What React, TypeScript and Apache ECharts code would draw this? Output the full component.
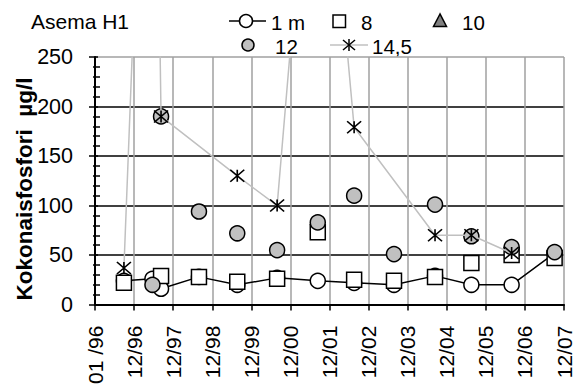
import React, { useEffect, useRef } from "react";
import * as echarts from "echarts";

const tickLabels = ["01 /96", "12/96", "12/97", "12/98", "12/99", "12/00", "12/01", "12/02", "12/03", "12/04", "12/05", "12/06", "12/07"];
// sample dates, in years after 01/96 (the axis unit)
const dates = [0.74, 1.47, 1.69, 2.66, 3.64, 4.66, 5.7, 6.63, 7.65, 8.7, 9.63, 10.66, 11.76];
const depth1 = [24, 26, 16, 28, 20, 27, 24, 22, 20, 29, 20, 20, 52];
const depth8 = [22, null, 29, 28, 23, 26, 73, 25, 24, 28, 42, 50, 47];
const depth10: (number | null)[] = [null, null, null, null, null, null, null, null, null, null, null, null, null];
const depth12 = [null, 20, 190, 94, 72, 55, 83, 110, 51, 101, 69, 58, 53];
const depth145 = [37, 780, 190, null, 130, 100, 586, 179, null, 70, 70, 52, null];

const FONT = "'Liberation Sans', Arial, sans-serif";
const STAR = "path://M0,0L14,12M14,0L0,12M7,0L7,12";

function pairs(vals: (number | null)[]) {
  const out: number[][] = [];
  vals.forEach((v, i) => {
    if (v !== null && v !== undefined) out.push([dates[i], v]);
  });
  return out;
}

export default function App() {
  const ref = useRef<HTMLDivElement>(null);
  useEffect(() => {
    if (!ref.current) return;
    const chart = echarts.init(ref.current, undefined, { renderer: "svg" });
    const grey = "#c0c0c0";
    const r1 = 21;
    const r2 = 45;
    chart.setOption({
      animation: false,
      backgroundColor: "#fff",
      textStyle: { fontFamily: FONT },
      grid: { left: 95, right: 15, top: 57, bottom: 77, containLabel: false },
      xAxis: {
        type: "value",
        min: 0,
        max: 12,
        interval: 1,
        axisLine: { show: true, lineStyle: { color: "#000", width: 2 } },
        axisTick: { show: true, length: 6, lineStyle: { color: "#000", width: 1.5 } },
        splitLine: { show: true, lineStyle: { color: "#a0a0a0", width: 1.5 } },
        axisLabel: {
          rotate: 90,
          margin: 21,
          fontSize: 21,
          color: "#000",
          fontFamily: FONT,
          formatter: (v: number) => tickLabels[Math.round(v)] ?? "",
        },
      },
      yAxis: [
        {
          type: "value",
          min: 0,
          max: 250,
          interval: 50,
          axisLine: { show: true, lineStyle: { color: "#000", width: 2 } },
          axisTick: { show: true, length: 6, lineStyle: { color: "#000", width: 1.5 } },
          minorTick: { show: true, splitNumber: 5, length: 2, lineStyle: { color: "#000", width: 1.5 } },
          splitLine: {
            show: true,
            lineStyle: { color: ["#000", "#000", "#000", "#000", "#000", "#a0a0a0"], width: 1.5 },
          },
          axisLabel: { fontSize: 21.5, color: "#000", margin: 22, fontFamily: FONT },
        },
        {
          type: "value",
          min: 0,
          max: 250,
          interval: 50,
          position: "left",
          axisLine: { show: false },
          axisLabel: { show: false },
          splitLine: { show: false },
          axisTick: { show: true, inside: true, length: 3, lineStyle: { color: "#000", width: 1.5 } },
          minorTick: { show: true, splitNumber: 5, length: 5, lineStyle: { color: "#000", width: 1.5 } },
        },
      ],
      series: [
        {
          name: "1 m",
          type: "line",
          data: pairs(depth1),
          symbol: "circle",
          symbolSize: 15,
          itemStyle: { color: "#fff", borderColor: "#000", borderWidth: 1.5 },
          lineStyle: { color: "#000", width: 1.5 },
          z: 2,
        },
        {
          name: "8",
          type: "scatter",
          data: pairs(depth8),
          symbol: "rect",
          symbolSize: 15,
          itemStyle: { color: "#fff", borderColor: "#000", borderWidth: 1.5, opacity: 1 },
          z: 3,
        },
        {
          name: "10",
          type: "scatter",
          data: pairs(depth10),
          symbol: "triangle",
          symbolSize: 13,
          itemStyle: { color: "#808080", borderColor: "#000", borderWidth: 1.5, opacity: 1 },
          z: 4,
        },
        {
          name: "12",
          type: "scatter",
          data: pairs(depth12),
          symbol: "circle",
          symbolSize: 15,
          itemStyle: { color: grey, borderColor: "#000", borderWidth: 1.5, opacity: 1 },
          z: 5,
        },
        {
          name: "14,5",
          type: "line",
          data: pairs(depth145),
          symbol: STAR,
          symbolSize: [14, 12],
          itemStyle: { color: "rgba(0,0,0,0)", borderColor: "#000", borderWidth: 1.5 },
          lineStyle: { color: grey, width: 1.5 },
          z: 6,
        },
      ],
      graphic: [
        { type: "text", x: 31, y: 21, style: { text: "Asema H1", fontSize: 21, fill: "#000", fontFamily: FONT, verticalAlign: "middle" } },
        {
          type: "text",
          x: 24,
          y: 189,
          rotation: Math.PI / 2,
          style: {
            text: "Kokonaisfosfori\u00a0\u00a0µg/l",
            fontSize: 22.5,
            fontWeight: "bold",
            fill: "#000",
            fontFamily: FONT,
            align: "center",
            verticalAlign: "middle",
          },
        },
        // legend row 1
        { type: "line", shape: { x1: 229, y1: r1, x2: 266, y2: r1 }, style: { stroke: "#000", lineWidth: 1.5 } },
        { type: "circle", shape: { cx: 246, cy: r1, r: 6.5 }, style: { fill: "#fff", stroke: "#000", lineWidth: 1.5 } },
        { type: "text", x: 271, y: r1 + 1, style: { text: "1 m", fontSize: 20.5, fill: "#000", fontFamily: FONT, verticalAlign: "middle" } },
        { type: "rect", shape: { x: 333, y: r1 - 6, width: 12.5, height: 12.5 }, style: { fill: "#fff", stroke: "#000", lineWidth: 1.5 } },
        { type: "text", x: 361, y: r1 + 1, style: { text: "8", fontSize: 20.5, fill: "#000", fontFamily: FONT, verticalAlign: "middle" } },
        { type: "polygon", shape: { points: [[440, r1 - 7], [433.5, r1 + 5.5], [446.5, r1 + 5.5]] }, style: { fill: "#808080", stroke: "#000", lineWidth: 1.5 } },
        { type: "text", x: 462, y: r1 + 1, style: { text: "10", fontSize: 20.5, fill: "#000", fontFamily: FONT, verticalAlign: "middle" } },
        // legend row 2
        { type: "circle", shape: { cx: 248, cy: r2, r: 6 }, style: { fill: grey, stroke: "#000", lineWidth: 1.5 } },
        { type: "text", x: 275, y: r2 + 1, style: { text: "12", fontSize: 20.5, fill: "#000", fontFamily: FONT, verticalAlign: "middle" } },
        { type: "line", shape: { x1: 330, y1: r2, x2: 368, y2: r2 }, style: { stroke: grey, lineWidth: 1.5 } },
        { type: "line", shape: { x1: 343, y1: r2 - 5, x2: 355, y2: r2 + 5 }, style: { stroke: "#000", lineWidth: 1.5 } },
        { type: "line", shape: { x1: 355, y1: r2 - 5, x2: 343, y2: r2 + 5 }, style: { stroke: "#000", lineWidth: 1.5 } },
        { type: "line", shape: { x1: 349, y1: r2 - 6, x2: 349, y2: r2 + 6 }, style: { stroke: "#000", lineWidth: 1.5 } },
        { type: "text", x: 372, y: r2 + 1, style: { text: "14,5", fontSize: 20.5, fill: "#000", fontFamily: FONT, verticalAlign: "middle" } },
      ],
    });
    return () => chart.dispose();
  }, []);
  return <div ref={ref} style={{ width: 579, height: 387, position: "absolute", left: 0, top: 0 }} />;
}
